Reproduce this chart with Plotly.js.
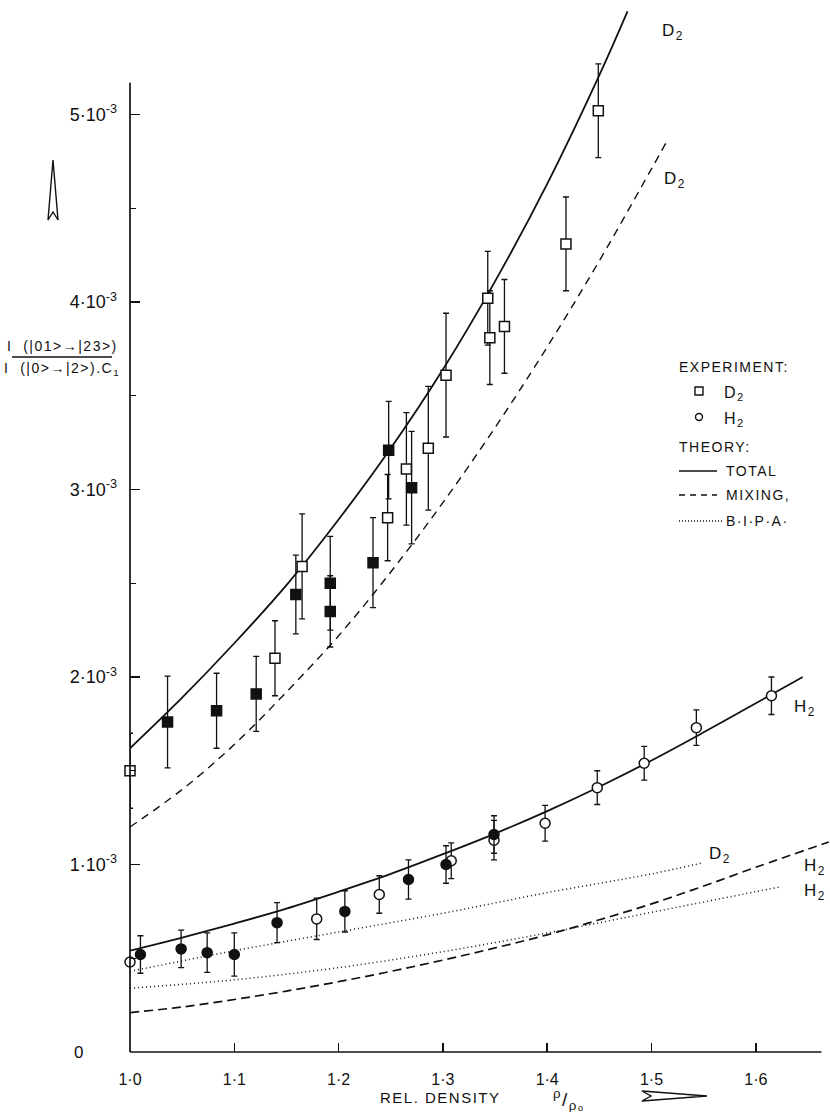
<!DOCTYPE html>
<html>
<head>
<meta charset="utf-8">
<script src="https://cdn.plot.ly/plotly-3.0.1.min.js"></script>
<style>
html,body{margin:0;padding:0;background:#fff;}
#chart{width:830px;height:1112px;}
.annotation-text{letter-spacing:1.5px;}
</style>
</head>
<body>
<div id="chart"></div>
<script>
// ---------- DATA (y values in units of 10^-3) ----------
// Theory curves
const d2TotalX  = [1.00,1.05,1.10,1.15,1.20,1.25,1.30,1.35,1.40,1.45,1.477];
const d2TotalY  = [1.62,1.89,2.18,2.49,2.84,3.22,3.64,4.11,4.63,5.21,5.55];
const d2MixX    = [1.00,1.05,1.10,1.15,1.20,1.25,1.30,1.35,1.40,1.45,1.50,1.514];
const d2MixY    = [1.20,1.40,1.64,1.92,2.22,2.56,2.93,3.33,3.76,4.22,4.71,4.85];
const d2BipaX   = [1.00,1.10,1.20,1.30,1.40,1.50,1.55];
const d2BipaY   = [0.43,0.54,0.64,0.74,0.85,0.95,1.01];
const h2TotalX  = [1.00,1.05,1.10,1.15,1.20,1.25,1.30,1.35,1.40,1.45,1.50,1.55,1.60,1.645];
const h2TotalY  = [0.54,0.61,0.685,0.765,0.855,0.95,1.055,1.165,1.285,1.415,1.555,1.705,1.86,2.00];
const h2MixX    = [1.00,1.05,1.10,1.15,1.20,1.25,1.30,1.35,1.40,1.45,1.50,1.55,1.60,1.67];
const h2MixY    = [0.21,0.24,0.28,0.325,0.375,0.43,0.49,0.555,0.625,0.705,0.79,0.885,0.985,1.12];
const h2BipaX   = [1.00,1.10,1.20,1.30,1.40,1.50,1.60,1.623];
const h2BipaY   = [0.34,0.385,0.45,0.535,0.635,0.745,0.855,0.88];

// Experiment: D2 (open squares / filled squares)
const d2OpenX   = [1.000,1.139,1.165,1.247,1.265,1.286,1.303,1.343,1.345,1.359,1.418,1.449];
const d2OpenY   = [1.50,2.10,2.59,2.85,3.11,3.22,3.61,4.02,3.81,3.87,4.31,5.02];
const d2OpenErr = [0.20,0.20,0.28,0.23,0.30,0.33,0.33,0.25,0.25,0.25,0.25,0.25];
const d2FillX   = [1.036,1.083,1.121,1.159,1.192,1.192,1.233,1.248,1.270];
const d2FillY   = [1.76,1.82,1.91,2.44,2.50,2.35,2.61,3.21,3.01];
const d2FillErr = [0.245,0.20,0.20,0.21,0.25,0.19,0.24,0.26,0.30];

// Experiment: H2 (open circles / filled circles)
const h2OpenX   = [1.000,1.179,1.239,1.308,1.349,1.398,1.448,1.493,1.543,1.615];
const h2OpenY   = [0.48,0.71,0.84,1.02,1.13,1.22,1.41,1.54,1.73,1.90];
const h2OpenErr = [0,0.11,0.10,0.095,0.105,0.095,0.09,0.09,0.095,0.10];
const h2FillX   = [1.010,1.049,1.074,1.100,1.141,1.206,1.267,1.303,1.349];
const h2FillY   = [0.52,0.55,0.53,0.52,0.69,0.75,0.92,1.00,1.16];
const h2FillErr = [0.10,0.10,0.105,0.115,0.107,0.11,0.105,0.10,0.10];

// Axis ticks
const xTickVals = [1.0,1.1,1.2,1.3,1.4,1.5,1.6];
const xTickText = ['1·0','1·1','1·2','1·3','1·4','1·5','1·6'];
const yTickVals = [0,1,2,3,4,5];
const yTickText = ['','1·10<sup>-3</sup>','2·10<sup>-3</sup>','3·10<sup>-3</sup>','4·10<sup>-3</sup>','5·10<sup>-3</sup>'];
const yMinorVals = [0.5,1.5,2.5,3.5,4.5];
const yAxisTop = 5.17;
const xAxisEnd = 1.663;

// ---------- LAYOUT GEOMETRY ----------
const L = 130, T = 8, W = 700, H = 1044;
const px = x => (x - L) / W;
const py = y => (T + H - y) / H;
const FONT = 'Liberation Sans, Arial, sans-serif';
const ink = '#111';

function lineTrace(x, y, dash, width) {
  return {x, y, type:'scatter', mode:'lines', hoverinfo:'skip', showlegend:false,
          line:{color:ink, width:width, dash:dash, shape:'spline', smoothing:1}};
}
function markTrace(x, y, err, symbol, fill, size) {
  return {x, y, type:'scatter', mode:'markers', showlegend:false, cliponaxis:false,
          marker:{symbol, size, color:fill, line:{color:ink, width:1.5}},
          error_y:{type:'data', array:err, visible:true, color:ink, thickness:1.3, width:3}};
}

const traces = [
  lineTrace(d2TotalX, d2TotalY, 'solid', 1.8),
  lineTrace(d2MixX, d2MixY, '8px,6px', 1.4),
  lineTrace(d2BipaX, d2BipaY, '1px,3px', 1.5),
  lineTrace(h2TotalX, h2TotalY, 'solid', 1.8),
  lineTrace(h2MixX, h2MixY, '9px,5px', 1.7),
  lineTrace(h2BipaX, h2BipaY, '1px,3px', 1.5),
  markTrace(d2OpenX, d2OpenY, d2OpenErr, 'square', '#fff', 10),
  markTrace(d2FillX, d2FillY, d2FillErr, 'square', ink, 10),
  markTrace(h2OpenX, h2OpenY, h2OpenErr, 'circle', '#fff', 10),
  markTrace(h2FillX, h2FillY, h2FillErr, 'circle', ink, 10)
];

function ann(text, x, y, size, xanchor) {
  return {text, x:px(x), y:py(y), xref:'paper', yref:'paper', showarrow:false,
          xanchor:xanchor || 'left', yanchor:'middle',
          font:{family:FONT, size:size || 14, color:ink}};
}

const annotations = [
  // curve labels
  ann('D<sub>2</sub>', 660, 32, 17),
  ann('D<sub>2</sub>', 662, 180, 17),
  ann('H<sub>2</sub>', 792, 708, 17),
  ann('D<sub>2</sub>', 707, 855, 17),
  ann('H<sub>2</sub>', 802, 867, 17),
  ann('H<sub>2</sub>', 802, 892, 17),
  // legend
  ann('EXPERIMENT:', 677, 367, 14),
  ann('D<sub>2</sub>', 722, 393, 16),
  ann('H<sub>2</sub>', 722, 419, 16),
  ann('THEORY:', 677, 447, 14),
  ann('TOTAL', 724, 471, 14),
  ann('MIXING,', 724, 495, 14),
  ann('B·I·P·A·', 724, 521, 14),
  // y-axis label (fraction)
  ann('I  (|01&gt;→|23&gt;)', 62, 346, 14, 'center'),
  ann('I  (|0&gt;→|2&gt;).C<sub>1</sub>', 62, 369, 14, 'center'),
  // zero tick label
  ann('0', 79, 1052, 17, 'center'),
  // x-axis label
  ann('REL. DENSITY', 440, 1097, 15, 'center'),
  ann('<sup>ρ</sup>/<sub>ρₒ</sub>', 568, 1099, 19, 'center')
];

const shapes = [
  // y-axis line
  {type:'line', xref:'paper', yref:'y', x0:0, x1:0, y0:0, y1:yAxisTop, line:{color:ink, width:1.7}},
  // x-axis line
  {type:'line', xref:'x', yref:'paper', x0:1.0, x1:xAxisEnd, y0:0, y1:0, line:{color:ink, width:1.7}},
  // fraction bar
  {type:'line', xref:'paper', yref:'paper', x0:px(12), x1:px(112), y0:py(357), y1:py(357), line:{color:ink, width:1.3}},
  // up arrow (y direction)
  {type:'path', xref:'paper', yref:'paper',
   path:`M${px(53)},${py(160)} L${px(48)},${py(220)} L${px(53)},${py(212)} L${px(58)},${py(220)} Z`,
   line:{color:ink, width:1.4}},
  // right arrow (x direction)
  {type:'path', xref:'paper', yref:'paper',
   path:`M${px(642)},${py(1091)} L${px(707)},${py(1096)} L${px(642)},${py(1101)} L${px(651)},${py(1096)} Z`,
   line:{color:ink, width:1.4}},
  // legend samples
  {type:'line', xref:'paper', yref:'paper', x0:px(679), x1:px(717), y0:py(471), y1:py(471), line:{color:ink, width:1.5}},
  {type:'line', xref:'paper', yref:'paper', x0:px(679), x1:px(717), y0:py(495), y1:py(495), line:{color:ink, width:1.4, dash:'6px,5px'}},
  {type:'line', xref:'paper', yref:'paper', x0:px(679), x1:px(722), y0:py(521), y1:py(521), line:{color:ink, width:1.3, dash:'1px,2px'}},
  {type:'rect', xref:'paper', yref:'paper', x0:px(695), x1:px(703), y0:py(387), y1:py(395), line:{color:ink, width:1.4}, fillcolor:'#fff'},
  {type:'circle', xref:'paper', yref:'paper', x0:px(695.5), x1:px(702.5), y0:py(413.5), y1:py(420.5), line:{color:ink, width:1.4}, fillcolor:'#fff'}
];

const layout = {
  width:830, height:1112,
  margin:{l:L, r:830-L-W, t:T, b:1112-T-H, pad:0},
  paper_bgcolor:'#fff', plot_bgcolor:'#fff',
  showlegend:false,
  font:{family:FONT, color:ink},
  xaxis:{range:[1.0, 1.0 + 700/1043], showgrid:false, zeroline:false, showline:false,
         tickmode:'array', tickvals:xTickVals, ticktext:xTickText,
         ticks:'inside', ticklen:9, tickwidth:1.5, tickcolor:ink,
         ticklabelstandoff:16, tickfont:{family:FONT, size:16, color:ink}},
  yaxis:{range:[0, 5.568], showgrid:false, zeroline:false, showline:false,
         tickmode:'array', tickvals:yTickVals, ticktext:yTickText,
         ticks:'inside', ticklen:10, tickwidth:1.5, tickcolor:ink,
         ticklabelstandoff:12, tickfont:{family:FONT, size:18, color:ink},
         minor:{tickmode:'array', tickvals:yMinorVals, ticks:'inside', ticklen:6, tickwidth:1.3, tickcolor:ink}},
  annotations, shapes
};

Plotly.newPlot('chart', traces, layout, {staticPlot:true, displayModeBar:false});
</script>
</body>
</html>
